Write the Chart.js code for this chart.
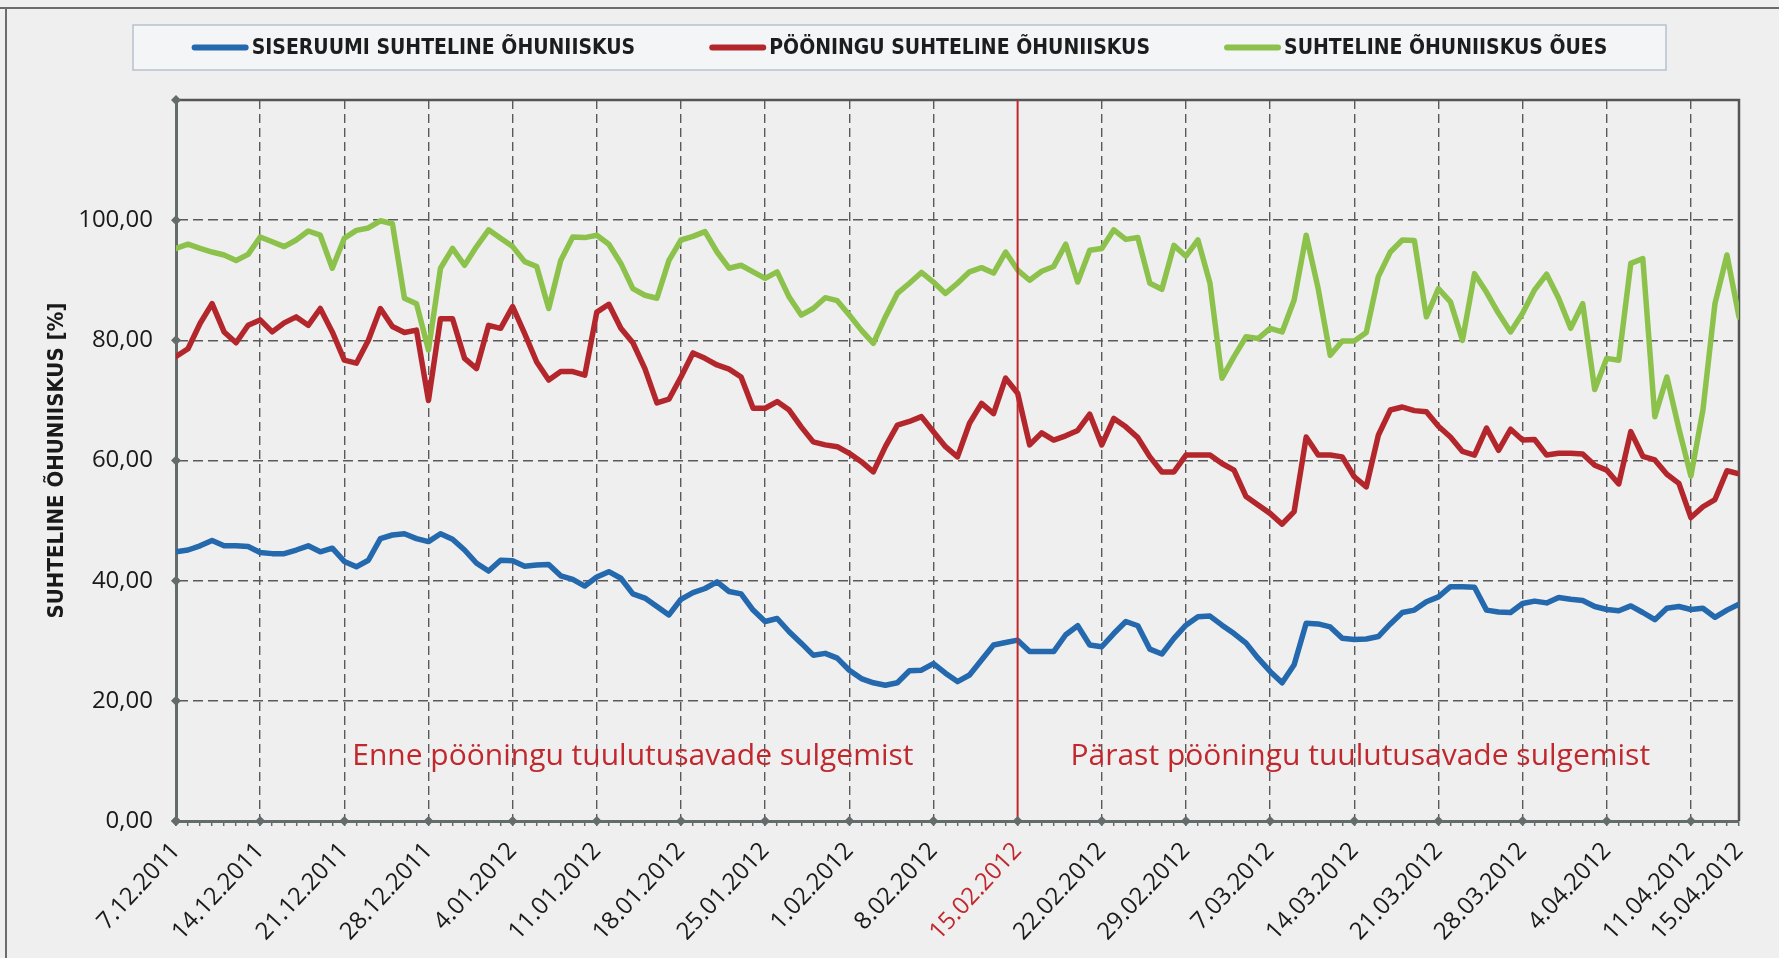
<!DOCTYPE html>
<html>
<head>
<meta charset="utf-8">
<title>Suhteline õhuniiskus</title>
<script src="https://cdn.jsdelivr.net/npm/chart.js@4.4.1/dist/chart.umd.min.js"></script>
<style>
  html, body { margin: 0; padding: 0; background: #efefef; }
  #wrap { position: relative; width: 1779px; height: 958px; }
</style>
</head>
<body>
<div id="wrap"><canvas id="humidityChart"></canvas></div>
<script>
// igapäevased väärtused 7.12.2011 ... 15.04.2012 (131 päeva), loetud graafikult
const indoorRH = [
  44.8, 45.1, 45.8, 46.7, 45.8, 45.8, 45.7, 44.7, 44.5, 44.5,
  45.1, 45.8, 44.8, 45.4, 43.2, 42.3, 43.4, 47.0, 47.6, 47.8,
  47.0, 46.5, 47.8, 46.9, 45.1, 42.9, 41.6, 43.4, 43.3, 42.4,
  42.6, 42.7, 40.8, 40.2, 39.1, 40.6, 41.5, 40.4, 37.8, 37.1,
  35.7, 34.3, 36.9, 38.0, 38.7, 39.8, 38.2, 37.8, 35.1, 33.2,
  33.7, 31.5, 29.6, 27.6, 27.9, 27.1, 25.1, 23.7, 23.0, 22.6,
  23.0, 25.0, 25.1, 26.2, 24.6, 23.2, 24.3, 26.8, 29.3, 29.7,
  30.1, 28.2, 28.2, 28.2, 31.0, 32.5, 29.3, 29.0, 31.2, 33.2,
  32.5, 28.6, 27.8, 30.4, 32.6, 34.0, 34.1, 32.6, 31.2, 29.6,
  27.1, 24.9, 23.0, 26.0, 32.9, 32.8, 32.3, 30.4, 30.2, 30.3,
  30.7, 32.8, 34.7, 35.1, 36.5, 37.3, 39.0, 39.0, 38.9, 35.1,
  34.8, 34.7, 36.2, 36.6, 36.3, 37.2, 36.9, 36.7, 35.7, 35.2,
  35.0, 35.8, 34.7, 33.5, 35.4, 35.7, 35.2, 35.4, 33.9, 35.1, 36.1
];
const atticRH = [
  77.3, 78.6, 82.8, 86.1, 81.4, 79.6, 82.5, 83.4, 81.4, 82.9,
  83.9, 82.5, 85.3, 81.4, 76.7, 76.2, 80.0, 85.3, 82.3, 81.3,
  81.7, 70.0, 83.6, 83.6, 77.0, 75.3, 82.5, 82.0, 85.6, 81.1,
  76.4, 73.4, 74.8, 74.8, 74.2, 84.7, 86.0, 82.0, 79.6, 75.3,
  69.6, 70.2, 73.9, 77.9, 77.0, 75.9, 75.2, 73.9, 68.7, 68.7,
  69.8, 68.4, 65.6, 63.1, 62.6, 62.3, 61.2, 59.8, 58.1, 62.3,
  65.9, 66.5, 67.3, 64.8, 62.3, 60.6, 66.2, 69.5, 67.8, 73.7,
  71.2, 62.6, 64.6, 63.4, 64.1, 65.0, 67.7, 62.6, 67.0, 65.6,
  63.8, 60.6, 58.1, 58.1, 60.9, 60.9, 60.9, 59.5, 58.4, 54.0,
  52.6, 51.2, 49.4, 51.5, 63.9, 60.9, 60.9, 60.6, 57.3, 55.6,
  64.2, 68.4, 68.9, 68.3, 68.1, 65.7, 63.9, 61.5, 60.9, 65.4,
  61.7, 65.2, 63.4, 63.5, 60.9, 61.2, 61.2, 61.1, 59.2, 58.4,
  56.1, 64.8, 60.7, 60.1, 57.7, 56.2, 50.5, 52.3, 53.5, 58.3, 57.8
];
const outdoorRH = [
  95.3, 96.0, 95.3, 94.7, 94.2, 93.3, 94.3, 97.2, 96.4, 95.6,
  96.7, 98.2, 97.5, 92.0, 97.0, 98.3, 98.7, 99.9, 99.4, 87.0,
  86.1, 78.4, 92.0, 95.3, 92.5, 95.6, 98.4, 97.0, 95.6, 93.1,
  92.3, 85.3, 93.3, 97.2, 97.1, 97.5, 96.0, 92.8, 88.6, 87.5,
  87.0, 93.3, 96.7, 97.3, 98.1, 94.7, 92.0, 92.5, 91.4, 90.3,
  91.4, 87.2, 84.2, 85.3, 87.1, 86.6, 84.2, 81.7, 79.5, 83.9,
  87.8, 89.5, 91.3, 89.7, 87.8, 89.5, 91.4, 92.1, 91.2, 94.7,
  91.7, 90.0, 91.5, 92.3, 96.0, 89.7, 95.0, 95.3, 98.4, 96.8,
  97.1, 89.5, 88.5, 95.8, 94.0, 96.7, 89.5, 73.7, 77.3, 80.6,
  80.3, 82.0, 81.4, 86.7, 97.5, 88.6, 77.5, 79.9, 79.9, 81.3,
  90.6, 94.7, 96.7, 96.6, 83.9, 88.6, 86.4, 80.0, 91.1, 88.0,
  84.5, 81.4, 84.5, 88.4, 91.0, 87.0, 82.0, 86.1, 71.8, 77.0,
  76.7, 92.8, 93.6, 67.3, 73.9, 65.3, 57.4, 68.4, 86.1, 94.2, 83.9
];

const seriesNames = [
  "SISERUUMI SUHTELINE ÕHUNIISKUS",
  "PÖÖNINGU SUHTELINE ÕHUNIISKUS",
  "SUHTELINE ÕHUNIISKUS ÕUES"
];
const seriesColors = ["#2468ad", "#b3272c", "#8cc24c"];

// päeva number alates 7.12.2011
const tickDays = [0, 7, 14, 21, 28, 35, 42, 49, 56, 63, 70, 77, 84, 91, 98, 105, 112, 119, 126, 130];
const tickLabels = [
  "7.12.2011", "14.12.2011", "21.12.2011", "28.12.2011", "4.01.2012",
  "11.01.2012", "18.01.2012", "25.01.2012", "1.02.2012", "8.02.2012",
  "15.02.2012", "22.02.2012", "29.02.2012", "7.03.2012", "14.03.2012",
  "21.03.2012", "28.03.2012", "4.04.2012", "11.04.2012", "15.04.2012"
];
const closingDay = 70; // 15.02.2012 tuulutusavad suleti
const periodTexts = ["Enne pööningu tuulutusavade sulgemist", "Pärast pööningu tuulutusavade sulgemist"];
const periodDays = [38, 98.5];
const periodLevel = 10.7;

const narrowFont = '"Liberation Sans Narrow", "DejaVu Sans Condensed", "Roboto Condensed", "Liberation Sans", sans-serif';
const textFont = '"Open Sans", "Noto Sans", sans-serif';
const darkRed = "#c0282e";
const gridGray = "#5a5a5a";
const axisGray = "#646b6b";

function toPoints(values) {
  return values.map(function (v, i) { return { x: i, y: v }; });
}

const decorations = {
  id: "decorations",
  beforeDraw(chart) {
    const { ctx, width, height } = chart;
    ctx.save();
    ctx.fillStyle = "#efefef";
    ctx.fillRect(0, 0, width, height);
    ctx.strokeStyle = "#6c6c6c";
    ctx.lineWidth = 2;
    ctx.beginPath();
    ctx.moveTo(0, 8);
    ctx.lineTo(width, 8);
    ctx.moveTo(6, 8);
    ctx.lineTo(6, height);
    ctx.stroke();
    ctx.restore();
  },
  beforeDatasetsDraw(chart) {
    const { ctx, chartArea } = chart;
    ctx.save();
    ctx.strokeStyle = "#555";
    ctx.lineWidth = 2.5;
    ctx.beginPath();
    ctx.moveTo(chartArea.left, chartArea.top);
    ctx.lineTo(chartArea.right, chartArea.top);
    ctx.lineTo(chartArea.right, chartArea.bottom);
    ctx.stroke();
    ctx.restore();
  },
  afterDatasetsDraw(chart) {
    const { ctx, chartArea, scales } = chart;
    const x = scales.x, y = scales.y;
    ctx.save();
    // sulgemise kuupäev
    const xc = x.getPixelForValue(closingDay);
    ctx.strokeStyle = darkRed;
    ctx.lineWidth = 2;
    ctx.beginPath();
    ctx.moveTo(xc, chartArea.top);
    ctx.lineTo(xc, chartArea.bottom);
    ctx.stroke();

    // rombid telgedel
    ctx.fillStyle = axisGray;
    function diamond(px, py) {
      ctx.beginPath();
      ctx.moveTo(px, py - 5);
      ctx.lineTo(px + 5, py);
      ctx.lineTo(px, py + 5);
      ctx.lineTo(px - 5, py);
      ctx.closePath();
      ctx.fill();
    }
    for (let v = 0; v <= 120; v += 20) diamond(chartArea.left, y.getPixelForValue(v));
    tickDays.slice(0, -1).forEach(function (d) { diamond(x.getPixelForValue(d), chartArea.bottom); });

    // perioodide tekstid
    ctx.fillStyle = darkRed;
    ctx.font = "30px " + textFont;
    ctx.textAlign = "center";
    ctx.textBaseline = "middle";
    periodTexts.forEach(function (t, i) {
      ctx.fillText(t, x.getPixelForValue(periodDays[i]), y.getPixelForValue(periodLevel));
    });
    ctx.restore();
  },
  afterDraw(chart) {
    const ctx = chart.ctx;
    const box = { left: 133, top: 25, width: 1533, height: 45, sample: 57, gap: 74 };
    ctx.save();
    ctx.fillStyle = "#f4f5f7";
    ctx.fillRect(box.left, box.top, box.width, box.height);
    ctx.strokeStyle = "#b7c2ce";
    ctx.lineWidth = 1.5;
    ctx.strokeRect(box.left, box.top, box.width, box.height);

    ctx.font = "bold 21px " + narrowFont;
    const items = chart.data.datasets.map(function (ds) {
      return { ds: ds, w: box.sample + 3 + ctx.measureText(ds.label).width };
    });
    const total = items.reduce(function (s, it) { return s + it.w; }, 0) + box.gap * (items.length - 1);
    let cx = box.left + (box.width - total) / 2;
    const cy = box.top + box.height / 2;
    items.forEach(function (it) {
      ctx.strokeStyle = it.ds.borderColor;
      ctx.lineWidth = 6;
      ctx.lineCap = "round";
      ctx.beginPath();
      ctx.moveTo(cx + 3, cy);
      ctx.lineTo(cx + box.sample - 3, cy);
      ctx.stroke();
      ctx.fillStyle = "#1d1d1d";
      ctx.textAlign = "left";
      ctx.textBaseline = "middle";
      ctx.fillText(it.ds.label, cx + box.sample + 3, cy + 1);
      cx += it.w + box.gap;
    });
    ctx.restore();
  }
};

const data = {
  datasets: [
    { label: seriesNames[0], data: toPoints(indoorRH), borderColor: seriesColors[0] },
    { label: seriesNames[1], data: toPoints(atticRH), borderColor: seriesColors[1] },
    { label: seriesNames[2], data: toPoints(outdoorRH), borderColor: seriesColors[2] }
  ]
};

const config = {
  type: "line",
  data: data,
  options: {
    responsive: true,
    maintainAspectRatio: false,
    animation: false,
    layout: { padding: { top: 100, right: 40, left: 0, bottom: 0 } },
    elements: {
      line: { borderWidth: 5.5, tension: 0, borderJoinStyle: "round", borderCapStyle: "round" },
      point: { radius: 0, hoverRadius: 0 }
    },
    plugins: {
      legend: { display: false },
      tooltip: { enabled: false }
    },
    scales: {
      x: {
        type: "linear",
        min: 0,
        max: 130,
        afterBuildTicks: function (scale) {
          const t = [];
          for (let d = 0; d <= 130; d++) t.push({ value: d });
          scale.ticks = t;
        },
        afterFit: function (scale) { scale.height = 137; },
        ticks: {
          autoSkip: false,
          minRotation: 47,
          maxRotation: 47,
          padding: 11,
          font: { family: textFont, size: 24 },
          color: function (c) { return c.tick && c.tick.value === closingDay ? darkRed : "#1a1a1a"; },
          callback: function (value) {
            const k = tickDays.indexOf(value);
            return k < 0 ? "" : tickLabels[k];
          }
        },
        grid: {
          color: function (c) {
            const v = c.tick ? c.tick.value : -1;
            if (v <= 0 || v >= 130 || v === closingDay) return "transparent";
            return tickDays.indexOf(v) >= 0 ? gridGray : "transparent";
          },
          lineWidth: 1.4,
          drawTicks: true,
          tickLength: 5,
          tickColor: axisGray,
          tickWidth: 1.5
        },
        border: { color: axisGray, width: 3, dash: [9, 5] }
      },
      y: {
        min: 0,
        max: 120,
        afterFit: function (scale) { scale.width = 176; },
        ticks: {
          stepSize: 20,
          padding: 23,
          color: "#1a1a1a",
          font: { family: textFont, size: 24 },
          callback: function (v) { return v === 120 ? "" : v.toFixed(2).replace(".", ","); }
        },
        grid: {
          color: function (c) {
            const v = c.tick ? c.tick.value : 0;
            return v === 0 || v === 120 ? "transparent" : gridGray;
          },
          lineWidth: 1.4,
          drawTicks: false
        },
        border: { color: axisGray, width: 3, dash: [10, 5] },
        title: {
          display: true,
          text: "SUHTELINE ÕHUNIISKUS [%]",
          color: "#1a1a1a",
          font: { family: narrowFont, size: 22, weight: "bold" },
          padding: { top: 44, bottom: 0 }
        }
      }
    }
  },
  plugins: [decorations]
};

const humidityChart = new Chart(document.getElementById("humidityChart"), config);
</script>
</body>
</html>
